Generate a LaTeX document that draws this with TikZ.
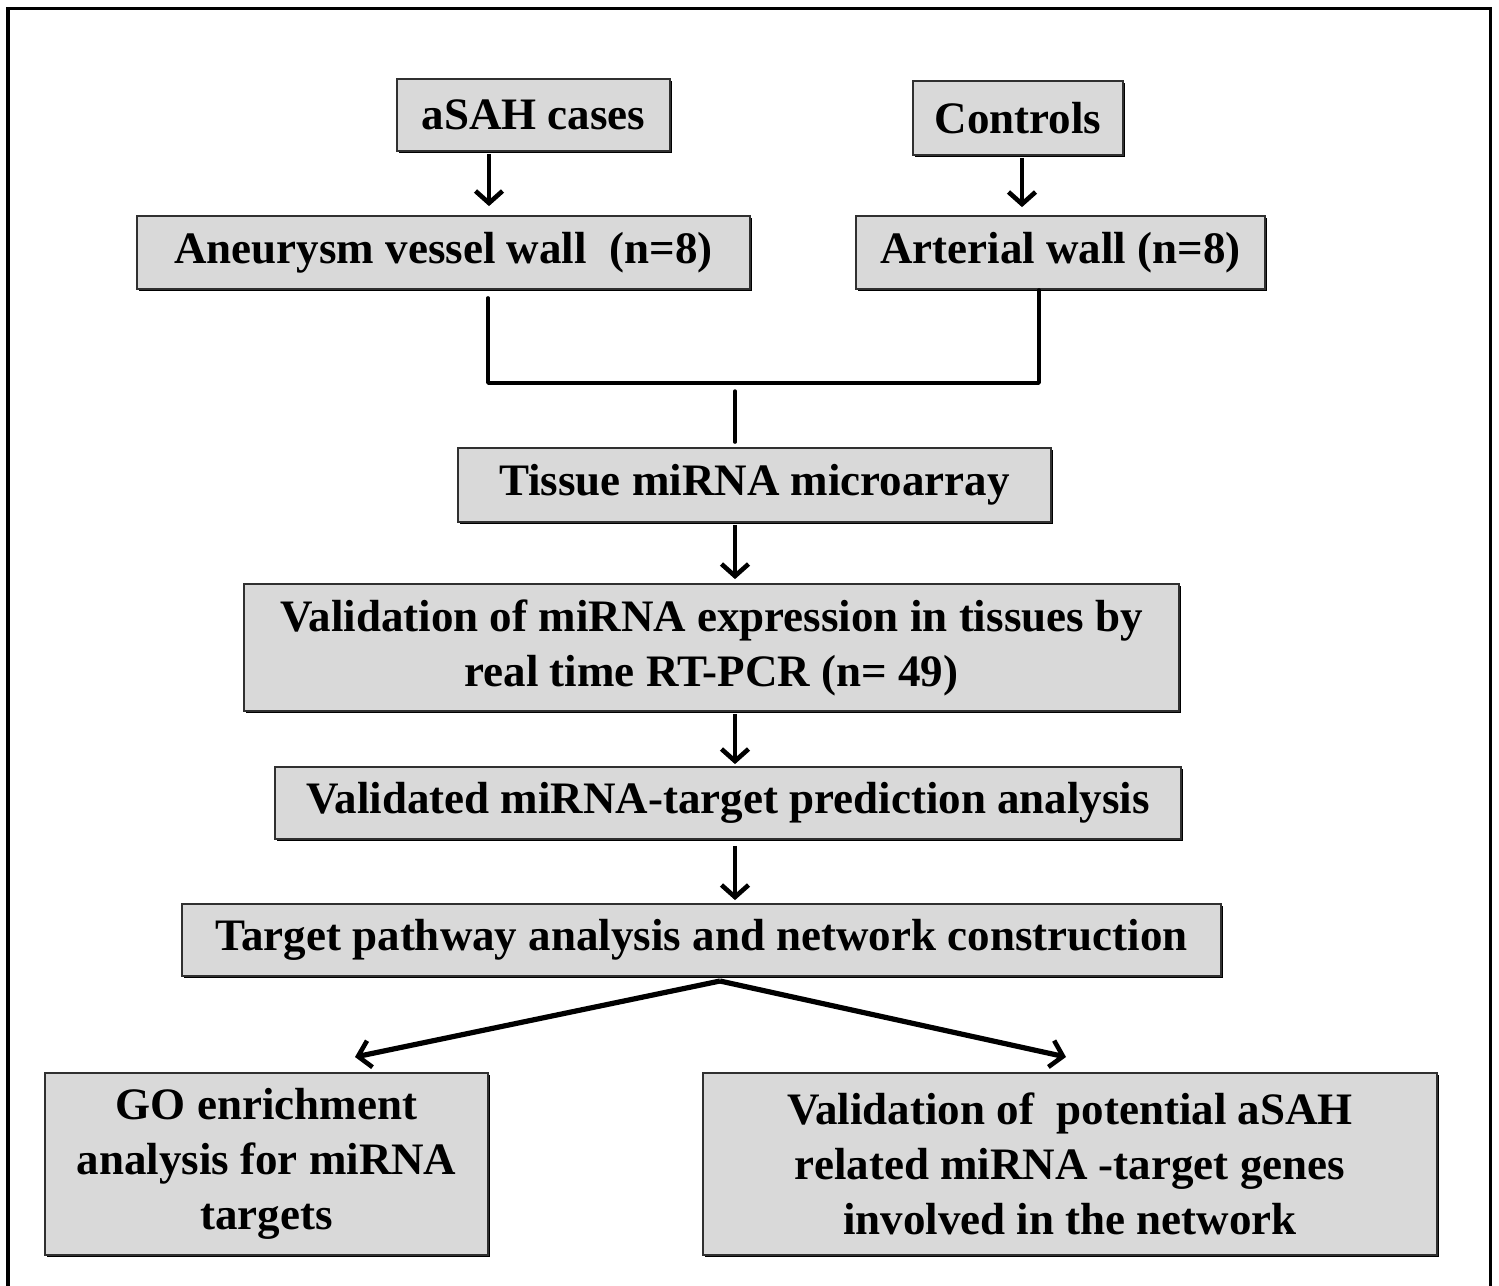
\documentclass[tikz,border=0pt]{standalone}
\usepackage{fontspec}
\setmainfont{Liberation Serif}
\usetikzlibrary{arrows.meta,shadows}
\definecolor{boxfill}{HTML}{D9D9D9}
\definecolor{boxline}{HTML}{303030}
\begin{document}
\begin{tikzpicture}[x=0.5pt,y=-0.5pt,
  box/.style={draw=boxline, line width=0.9pt, fill=boxfill, inner sep=0pt,
    align=center, font=\fontsize{22.5}{27.5}\selectfont\bfseries,
    drop shadow={shadow xshift=0.9pt, shadow yshift=-0.9pt, fill=black, opacity=1}},
  arr/.style={line width=2.3pt, -{Straight Barb[length=6pt,width=13.5pt,line width=2.3pt]}},
  conn/.style={line width=1.7pt, line join=round, line cap=round}]
\useasboundingbox (0,0) rectangle (1499,1285);
\fill[white] (0,0) rectangle (1499,1285);
\draw[line width=1.6pt] (8,1300) -- (8,8.5) -- (1490.5,8.5) -- (1490.5,1300);

\node[box, minimum width=136.5pt, minimum height=36pt] (cases) at (533.5,115) {aSAH cases};
\node[box, minimum width=105pt, minimum height=37pt] (controls) at (1018,118) {Controls};
\node[box, minimum width=306.5pt, minimum height=36.5pt] (aneurysm) at (443.5,252.5) {Aneurysm vessel wall~ (n=8)};
\node[box, minimum width=204.5pt, minimum height=36.5pt] (arterial) at (1060.5,252.5) {Arterial wall (n=8)};
\node[box, minimum width=296.5pt, minimum height=37pt] (tissue) at (754.5,485) {Tissue miRNA microarray};
\node[box, minimum width=467.5pt, minimum height=63.5pt] (valid) at (711.5,647.5) {Validation of miRNA expression in tissues by\\real time RT-PCR (n= 49)};
\node[box, minimum width=453pt, minimum height=36pt] (pred) at (728,803) {Validated miRNA-target prediction analysis};
\node[box, minimum width=519.5pt, minimum height=36pt] (pathway) at (701.5,940) {Target pathway analysis and network construction};
\node[box, minimum width=221.5pt, minimum height=91pt] (go) at (266.5,1164) {GO enrichment\\analysis for miRNA\\targets};
\node[box, minimum width=367pt, minimum height=91pt] (pot) at (1070,1164) {Validation of~ potential aSAH\\related miRNA -target genes\\involved in the network};

\coordinate (xa) at (489,0);
\coordinate (xc) at (1022,0);
\coordinate (xl) at (488,0);
\coordinate (xr) at (1039,0);
\coordinate (xm) at (735,0);
\coordinate (bar) at (0,383);
\coordinate (split) at (720,981);
\coordinate (gotip) at (355,1057);
\coordinate (pottip) at (1066,1057);

\draw[arr, shorten <=1pt, shorten >=4.5pt] (cases.south -| xa) -- (aneurysm.north -| xa);
\draw[arr, shorten <=1pt, shorten >=4pt] (controls.south -| xc) -- (arterial.north -| xc);
\draw[conn, shorten <=4pt] (aneurysm.south -| xl) -- (bar -| xl) -- (bar -| xr) -- (arterial.south -| xr);
\draw[conn, shorten <=4pt, shorten >=2.5pt] (bar -| xm) -- (tissue.north -| xm);
\draw[arr, shorten <=1pt, shorten >=2pt] (tissue.south -| xm) -- (valid.north -| xm);
\draw[arr, shorten <=1pt, shorten >=1pt] (valid.south -| xm) -- (pred.north -| xm);
\draw[arr, shorten <=3pt, shorten >=1.5pt] (pred.south -| xm) -- (pathway.north -| xm);
\draw[arr, line width=2.6pt] (split) -- (gotip);
\draw[arr, line width=2.6pt] (split) -- (pottip);
\end{tikzpicture}
\end{document}
